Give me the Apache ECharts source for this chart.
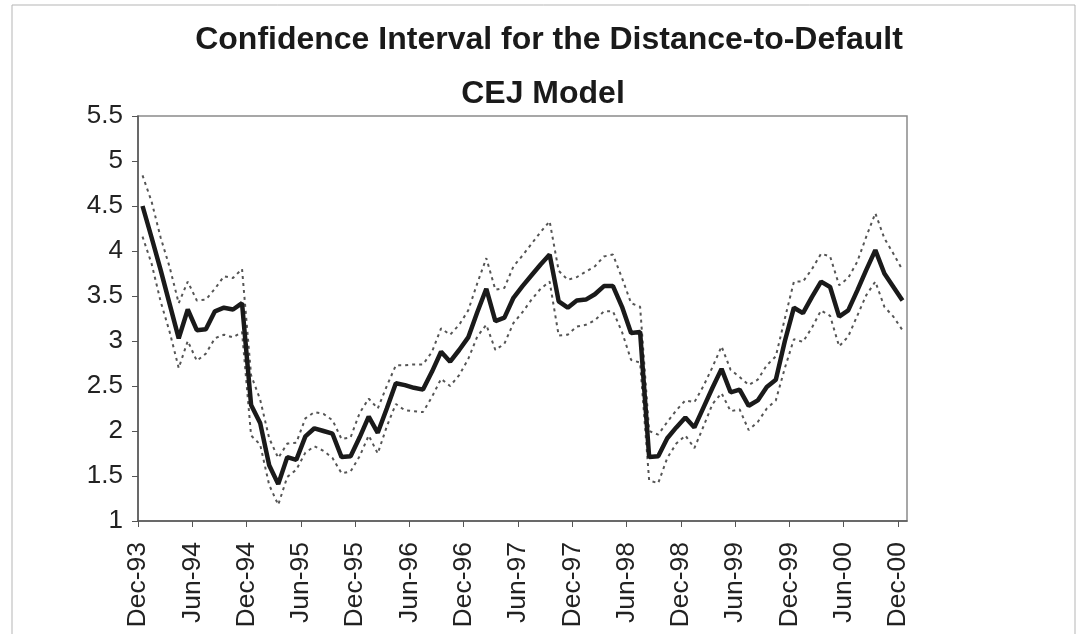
<!DOCTYPE html>
<html>
<head>
<meta charset="utf-8">
<script src="https://cdn.jsdelivr.net/npm/echarts@6/dist/echarts.min.js"></script>
<style>
  html, body { margin: 0; padding: 0; background: #fff; }
  #chart { width: 1083px; height: 634px; }
</style>
</head>
<body>
<div id="chart"></div>
<script>
// monthly observations, Dec-93 .. Dec-00 (85 months)
const tickLabels = ['Dec-93', 'Jun-94', 'Dec-94', 'Jun-95', 'Dec-95', 'Jun-96', 'Dec-96', 'Jun-97',
  'Dec-97', 'Jun-98', 'Dec-98', 'Jun-99', 'Dec-99', 'Jun-00', 'Dec-00'];

const dtd = [4.50, 4.15, 3.79, 3.41, 3.03, 3.35, 3.12, 3.13, 3.33, 3.37, 3.35, 3.42,
  2.29, 2.09, 1.62, 1.41, 1.71, 1.68, 1.94, 2.03, 2.00, 1.97, 1.71, 1.72,
  1.93, 2.16, 1.98, 2.25, 2.53, 2.51, 2.48, 2.46, 2.66, 2.88, 2.77, 2.90,
  3.04, 3.32, 3.58, 3.22, 3.26, 3.48, 3.61, 3.73, 3.85, 3.96, 3.44, 3.37,
  3.45, 3.46, 3.52, 3.61, 3.61, 3.38, 3.09, 3.10, 1.71, 1.72, 1.92, 2.04,
  2.15, 2.04, 2.26, 2.48, 2.69, 2.43, 2.46, 2.28, 2.34, 2.49, 2.57, 3.00,
  3.37, 3.31, 3.49, 3.66, 3.60, 3.27, 3.34, 3.56, 3.79, 4.01, 3.75, 3.60, 3.45];

const upper = [4.84, 4.55, 4.15, 3.82, 3.42, 3.66, 3.45, 3.46, 3.58, 3.72, 3.70, 3.80,
  2.62, 2.35, 1.92, 1.70, 1.86, 1.87, 2.14, 2.21, 2.19, 2.12, 1.91, 1.93,
  2.20, 2.36, 2.25, 2.50, 2.73, 2.73, 2.74, 2.74, 2.88, 3.14, 3.07, 3.18,
  3.34, 3.64, 3.92, 3.57, 3.59, 3.83, 3.95, 4.08, 4.21, 4.33, 3.78, 3.68,
  3.71, 3.77, 3.83, 3.94, 3.96, 3.70, 3.42, 3.38, 2.00, 1.96, 2.10, 2.23,
  2.34, 2.32, 2.50, 2.71, 2.94, 2.68, 2.60, 2.51, 2.57, 2.73, 2.83, 3.25,
  3.66, 3.66, 3.80, 3.97, 3.94, 3.62, 3.70, 3.88, 4.16, 4.42, 4.14, 3.97, 3.79];

const lower = [4.16, 3.86, 3.44, 3.10, 2.70, 3.00, 2.78, 2.86, 3.03, 3.07, 3.04, 3.10,
  1.95, 1.85, 1.40, 1.18, 1.49, 1.57, 1.76, 1.83, 1.78, 1.70, 1.53, 1.55,
  1.72, 1.95, 1.75, 2.05, 2.30, 2.23, 2.22, 2.21, 2.38, 2.58, 2.50, 2.62,
  2.80, 3.05, 3.18, 2.90, 2.97, 3.20, 3.32, 3.46, 3.58, 3.66, 3.06, 3.07,
  3.16, 3.18, 3.23, 3.33, 3.33, 3.10, 2.79, 2.76, 1.45, 1.42, 1.70, 1.86,
  1.95, 1.81, 2.05, 2.30, 2.42, 2.22, 2.24, 2.01, 2.10, 2.25, 2.34, 2.70,
  3.02, 2.99, 3.15, 3.34, 3.28, 2.94, 3.05, 3.28, 3.51, 3.66, 3.38, 3.27, 3.12];

const FONT = '"Liberation Sans", Arial, Helvetica, sans-serif';

// each month sits in the middle of its slot, ticks on the slot edges (like Excel)
function toPoints(arr) {
  return arr.map(function (v, i) { return [i + 0.5, v]; });
}

const titleStyle = {
  fontFamily: FONT,
  fontSize: 32,
  fontWeight: 'bold',
  color: '#1a1a1a',
  lineHeight: 27
};

const chart = echarts.init(document.getElementById('chart'), null, { renderer: 'canvas' });

const option = {
  backgroundColor: '#fff',
  animation: false,
  title: [{
    text: 'Confidence Interval for the Distance-to-Default',
    left: 544,
    top: 22,
    textAlign: 'center',
    textStyle: titleStyle
  }, {
    text: 'CEJ Model',
    left: 538,
    top: 76,
    textAlign: 'center',
    textStyle: titleStyle
  }],
  grid: {
    left: 138,
    right: 176,
    top: 116,
    bottom: 113,
    show: true,
    borderColor: '#8a8a8a',
    borderWidth: 1.5,
    backgroundColor: '#fff'
  },
  xAxis: {
    type: 'value',
    min: 0,
    max: 85,
    interval: 6,
    splitLine: { show: false },
    axisLine: { show: true, lineStyle: { color: '#555', width: 1.5 } },
    axisTick: { show: true, length: 6, lineStyle: { color: '#555' } },
    axisLabel: {
      rotate: 90,
      margin: 21,
      fontFamily: FONT,
      fontSize: 26.5,
      color: '#222',
      showMaxLabel: false,
      formatter: function (v) {
        return v % 6 === 0 ? (tickLabels[v / 6] || '') : '';
      }
    }
  },
  yAxis: {
    type: 'value',
    min: 1,
    max: 5.5,
    interval: 0.5,
    splitLine: { show: false },
    axisLine: { show: true, lineStyle: { color: '#555', width: 1.5 } },
    axisTick: { show: true, length: 6, lineStyle: { color: '#555' } },
    axisLabel: {
      margin: 15,
      fontFamily: FONT,
      fontSize: 26,
      color: '#222'
    }
  },
  series: [{
    name: 'Upper',
    type: 'line',
    data: toPoints(upper),
    symbol: 'none',
    lineStyle: { color: '#555', width: 2, type: [3, 4] },
    z: 2
  }, {
    name: 'Lower',
    type: 'line',
    data: toPoints(lower),
    symbol: 'none',
    lineStyle: { color: '#555', width: 2, type: [3, 4] },
    z: 2
  }, {
    name: 'Distance-to-Default',
    type: 'line',
    data: toPoints(dtd),
    symbol: 'none',
    lineStyle: { color: '#1a1a1a', width: 4.5 },
    z: 3
  }],
  graphic: [{
    type: 'rect',
    shape: { x: 12, y: 5, width: 1063, height: 660 },
    style: { fill: 'none', stroke: '#b5b5b5', lineWidth: 1 },
    silent: true
  }]
};

chart.setOption(option);
</script>
</body>
</html>
